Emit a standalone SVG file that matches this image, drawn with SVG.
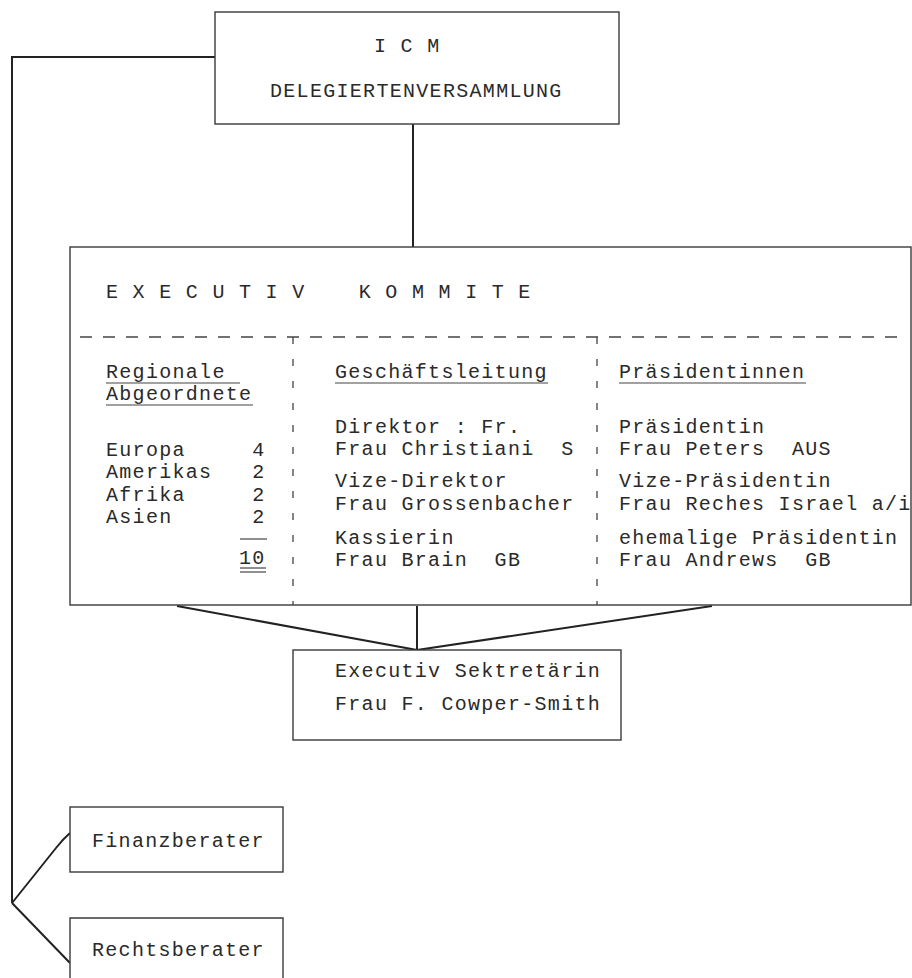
<svg xmlns="http://www.w3.org/2000/svg" width="912" height="978" viewBox="0 0 912 978" xml:space="preserve">
<style>
text { font-family: "Liberation Mono", "Courier New", monospace; font-size: 20px; letter-spacing: 1.3px; fill: #2a2a2a; white-space: pre; }
.box { fill: #fff; stroke: #3a3a3a; stroke-width: 1.4; }
.conn { fill: none; stroke: #222; stroke-width: 2; }
.ul { stroke: #444; stroke-width: 1.2; }
.dash { stroke: #444; stroke-width: 1.3; stroke-dasharray: 12 11; }
.vdash { stroke: #444; stroke-width: 1.3; stroke-dasharray: 7 15; }
</style>
<rect width="912" height="978" fill="#fff"/>
<g id="connectors">
  <path class="conn" d="M215,57 H12 V903"/>
  <path class="conn" d="M413,124 V247"/>
  <path class="conn" d="M177,606 L417,650"/>
  <path class="conn" d="M417,606 V650"/>
  <path class="conn" d="M712,606 L417,650"/>
  <path class="conn" d="M12,903 L56,848 Q63,839 70,833"/>
  <path class="conn" d="M12,903 L70,963"/>
</g>
<g id="icm">
  <rect class="box" x="215" y="12" width="404" height="112"/>
  <text x="374" y="52">I C M</text>
  <text x="270" y="97">DELEGIERTENVERSAMMLUNG</text>
</g>
<g id="executiv">
  <rect class="box" x="70" y="247" width="841" height="358"/>
  <text x="106" y="298" xml:space="preserve">E X E C U T I V    K O M M I T E</text>
  <line class="dash" x1="80" y1="337" x2="902" y2="337"/>
  <line class="vdash" x1="293" y1="337" x2="293" y2="605"/>
  <line class="vdash" x1="597" y1="337" x2="597" y2="605"/>
  <g id="regionale">
    <text x="106" y="378">Regionale</text>
    <line class="ul" x1="106" y1="383" x2="240" y2="383"/>
    <text x="106" y="400">Abgeordnete</text>
    <line class="ul" x1="106" y1="405" x2="253" y2="405"/>
    <text x="106" y="456" xml:space="preserve">Europa     4</text>
    <text x="106" y="478" xml:space="preserve">Amerikas   2</text>
    <text x="106" y="501" xml:space="preserve">Afrika     2</text>
    <text x="106" y="523" xml:space="preserve">Asien      2</text>
    <line class="ul" x1="240" y1="539" x2="267" y2="539"/>
    <text x="239" y="564">10</text>
    <line class="ul" x1="240" y1="568" x2="266" y2="568"/>
    <line class="ul" x1="240" y1="572" x2="266" y2="572"/>
  </g>
  <g id="geschaeftsleitung">
    <text x="335" y="378">Geschäftsleitung</text>
    <line class="ul" x1="335" y1="383" x2="548" y2="383"/>
    <text x="335" y="433">Direktor : Fr.</text>
    <text x="335" y="455" xml:space="preserve">Frau Christiani  S</text>
    <text x="335" y="487">Vize-Direktor</text>
    <text x="335" y="510">Frau Grossenbacher</text>
    <text x="335" y="544">Kassierin</text>
    <text x="335" y="566" xml:space="preserve">Frau Brain  GB</text>
  </g>
  <g id="praesidentinnen">
    <text x="619" y="378">Präsidentinnen</text>
    <line class="ul" x1="619" y1="383" x2="806" y2="383"/>
    <text x="619" y="433">Präsidentin</text>
    <text x="619" y="455" xml:space="preserve">Frau Peters  AUS</text>
    <text x="619" y="487">Vize-Präsidentin</text>
    <text x="619" y="510">Frau Reches Israel a/i</text>
    <text x="619" y="544">ehemalige Präsidentin</text>
    <text x="619" y="566" xml:space="preserve">Frau Andrews  GB</text>
  </g>
</g>
<g id="sekretaerin">
  <rect class="box" x="293" y="650" width="328" height="90"/>
  <text x="335" y="677">Executiv Sektretärin</text>
  <text x="335" y="710">Frau F. Cowper-Smith</text>
</g>
<g id="finanzberater">
  <rect class="box" x="70" y="807" width="213" height="65"/>
  <text x="92" y="847">Finanzberater</text>
</g>
<g id="rechtsberater">
  <path class="box" d="M70,980 V918 H283 V980"/>
  <text x="92" y="956">Rechtsberater</text>
</g>
</svg>
